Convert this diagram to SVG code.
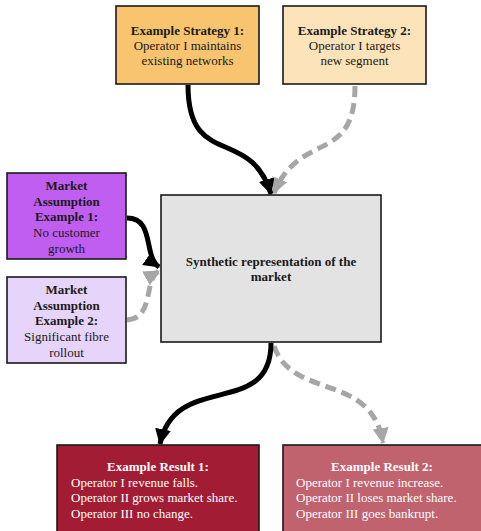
<svg xmlns="http://www.w3.org/2000/svg" width="481" height="531" viewBox="0 0 481 531">
<defs>
<style>
.box{stroke:#1a1a1a;stroke-width:1.6}
text{font-family:"Liberation Serif","Times New Roman",serif;font-size:13px;fill:#1a1a1a}
.b{font-weight:bold}
.c{text-anchor:middle}
.w{fill:#ffffff}
.solid{fill:none;stroke:#000;stroke-width:5}
.dash{fill:none;stroke:#a6a6a6;stroke-width:5;stroke-dasharray:11 6}
</style>
<marker id="ab" markerUnits="userSpaceOnUse" markerWidth="18" markerHeight="18" refX="15" refY="8" orient="auto">
<path d="M0,0 L16,8 L0,16 Z" fill="#000"/>
</marker>
<marker id="ag" markerUnits="userSpaceOnUse" markerWidth="18" markerHeight="18" refX="15" refY="8" orient="auto">
<path d="M0,0 L16,8 L0,16 Z" fill="#a6a6a6"/>
</marker>
</defs>
<rect width="481" height="531" fill="#fff"/>
<g id="connectors">
<path class="dash" d="M355,86 C355,165 300,130 274,193" marker-end="url(#ag)"/>
<path class="solid" d="M188,85 C188,170 250,125 271,194" marker-end="url(#ab)"/>
<path class="dash" d="M127,320 C155,318 143,280 159,271" marker-end="url(#ag)"/>
<path class="solid" d="M127,218 C155,218 143,256 159,267" marker-end="url(#ab)"/>
<path class="dash" d="M274,346 C292,400 372,372 383,443" marker-end="url(#ag)"/>
<path class="solid" d="M271,343 C271,420 175,370 160,444" marker-end="url(#ab)"/>
</g>
<g id="strategy1">
<rect class="box" x="116" y="6" width="143" height="78" fill="#f9c46f"/>
<text class="b c" x="187.5" y="35">Example Strategy 1:</text>
<text class="c" x="187.5" y="50">Operator I maintains</text>
<text class="c" x="187.5" y="65">existing networks</text>
</g>
<g id="strategy2">
<rect class="box" x="283" y="6" width="143" height="78" fill="#fde3b9"/>
<text class="b c" x="354.5" y="35">Example Strategy 2:</text>
<text class="c" x="354.5" y="50">Operator I targets</text>
<text class="c" x="354.5" y="65">new segment</text>
</g>
<g id="assumption1">
<rect class="box" x="7" y="173" width="119" height="86" fill="#c05ef2"/>
<text class="b c" x="66.5" y="190">Market</text>
<text class="b c" x="66.5" y="206">Assumption</text>
<text class="b c" x="66.5" y="221">Example 1:</text>
<text class="c" x="66.5" y="237">No customer</text>
<text class="c" x="66.5" y="253">growth</text>
</g>
<g id="assumption2">
<rect class="box" x="7" y="277" width="119" height="86" fill="#e6d4fa"/>
<text class="b c" x="66.5" y="294">Market</text>
<text class="b c" x="66.5" y="310">Assumption</text>
<text class="b c" x="66.5" y="325">Example 2:</text>
<text class="c" x="66.5" y="341">Significant fibre</text>
<text class="c" x="66.5" y="357">rollout</text>
</g>
<g id="market">
<rect class="box" x="161" y="195" width="220" height="147" fill="#e3e3e3"/>
<text class="b c" x="271" y="266">Synthetic representation of the</text>
<text class="b c" x="271" y="281">market</text>
</g>
<g id="result1">
<rect class="box" x="57" y="445" width="202" height="100" fill="#a21c34"/>
<text class="b c w" x="158" y="471">Example Result 1:</text>
<text class="w" x="71" y="486.5">Operator I revenue falls.</text>
<text class="w" x="71" y="502">Operator II grows market share.</text>
<text class="w" x="71" y="517.5">Operator III no change.</text>
</g>
<g id="result2">
<rect class="box" x="283" y="445" width="200" height="100" fill="#c1626f"/>
<text class="b c w" x="382" y="471">Example Result 2:</text>
<text class="w" x="296" y="486.5">Operator I revenue increase.</text>
<text class="w" x="296" y="502">Operator II loses market share.</text>
<text class="w" x="296" y="517.5">Operator III goes bankrupt.</text>
</g>
</svg>
